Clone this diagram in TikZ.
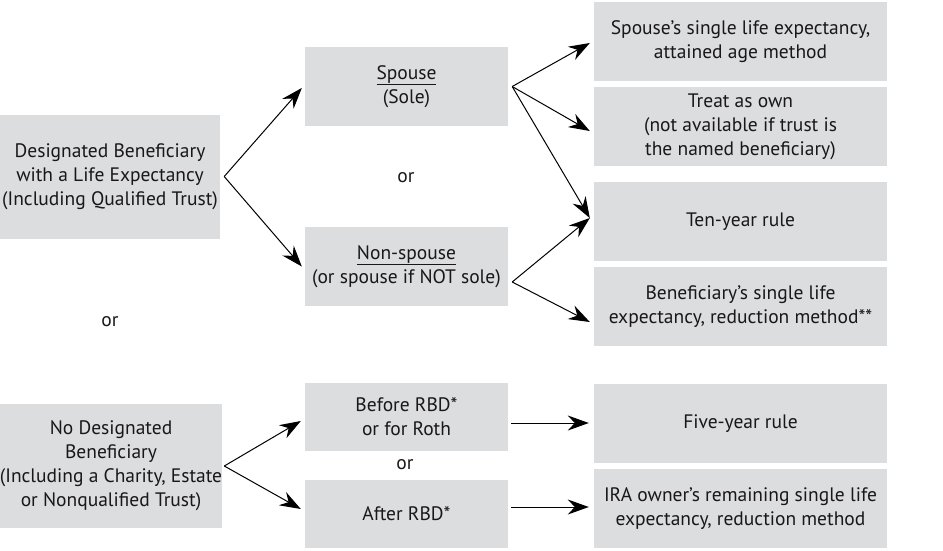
\documentclass[tikz,border=0pt]{standalone}
\usepackage{fontspec}
\setmainfont{PT Sans}
\usetikzlibrary{arrows.meta}
\definecolor{boxgray}{HTML}{DCDDDE}
\definecolor{inkgray}{HTML}{1A1718}
\begin{document}
\begin{tikzpicture}[x=1pt,y=-1pt,
  box/.style={fill=boxgray,inner sep=0pt,align=center,text=inkgray,
    font=\fontsize{19.5}{24}\selectfont},
  leftbox/.style={box,minimum width=220pt,minimum height=124pt},
  midbox/.style={box,minimum width=203pt,minimum height=79pt},
  rbdbox/.style={box,minimum width=203pt,minimum height=68pt},
  rightbox/.style={box,minimum width=293pt,minimum height=79pt},
  ortext/.style={text=inkgray,inner sep=0pt,font=\fontsize{19.5}{24}\selectfont},
  arr/.style={-{Stealth[length=21pt,width=15pt,inset=7pt]},line width=1pt}]

\useasboundingbox (0,0) rectangle (943,550);

% left column
\node[leftbox] (desig) at (110,176.5) {Designated Beneficiary\\with a Life Expectancy\\(Including Qualified Trust)};
\node[leftbox] (nodesig) at (111,466) {No Designated\\Beneficiary\\(Including a Charity, Estate\\or Nonqualified Trust)};

% middle column
\node[midbox] (spouse) at (406.5,86.5) {\underline{Spouse}\\(Sole)};
\node[midbox] (nonsp) at (406.5,266.5) {\underline{Non-spouse}\\(or spouse if NOT sole)};
\node[rbdbox] (before) at (406.5,417) {Before RBD*\\or for Roth};
\node[rbdbox] (after) at (406.5,514) {After RBD*};

% right column
\node[rightbox] (attained) at (740.5,41.5) {Spouse’s single life expectancy,\\attained age method};
\node[rightbox] (own) at (740.5,126.5) {Treat as own\\(not available if trust is\\the named beneficiary)};
\node[rightbox] (tenyr) at (740.5,221.5) {Ten-year rule};
\node[rightbox] (benef) at (740.5,306.5) {Beneficiary’s single life\\expectancy, reduction method**};
\node[rightbox] (fiveyr) at (740.5,423.5) {Five-year rule};
\node[rightbox] (owner) at (740.5,508.5) {IRA owner’s remaining single life\\expectancy, reduction method};

% or
\node[ortext] (or1) at (406,178) {or};
\node[ortext] (or2) at (110,322) {or};
\node[ortext] (or3) at (405,465) {or};

% arrows
\draw[arr] ([xshift=4pt]desig.east) -- ([xshift=-3pt,yshift=-1.5pt]spouse.west);
\draw[arr] ([xshift=4pt]desig.east) -- ([xshift=-3pt]nonsp.west);

\draw[arr] ([xshift=4pt]spouse.east) -- ([xshift=-4pt,yshift=-1.5pt]attained.west);
\draw[arr] ([xshift=4pt]spouse.east) -- ([xshift=-4pt,yshift=-4.5pt]own.west);
\draw[arr] ([xshift=4pt]spouse.east) -- ([xshift=-4pt,yshift=3.5pt]tenyr.west);

\draw[arr] ([xshift=4pt,yshift=-15.5pt]nonsp.east) -- ([xshift=-4pt,yshift=3.5pt]tenyr.west);
\draw[arr] ([xshift=4pt,yshift=-15.5pt]nonsp.east) -- ([xshift=-4pt,yshift=-15.5pt]benef.west);

\draw[arr] ([xshift=2pt]nodesig.east) -- ([xshift=-4pt,yshift=-4pt]before.west);
\draw[arr] ([xshift=2pt]nodesig.east) -- ([xshift=-4pt,yshift=5pt]after.west);

\draw[arr] ([xshift=3pt,yshift=-6pt]before.east) -- ([xshift=-5pt,yshift=0.5pt]fiveyr.west);
\draw[arr] ([xshift=3pt,yshift=7pt]after.east) -- ([xshift=-5pt,yshift=1.5pt]owner.west);

\end{tikzpicture}
\end{document}
